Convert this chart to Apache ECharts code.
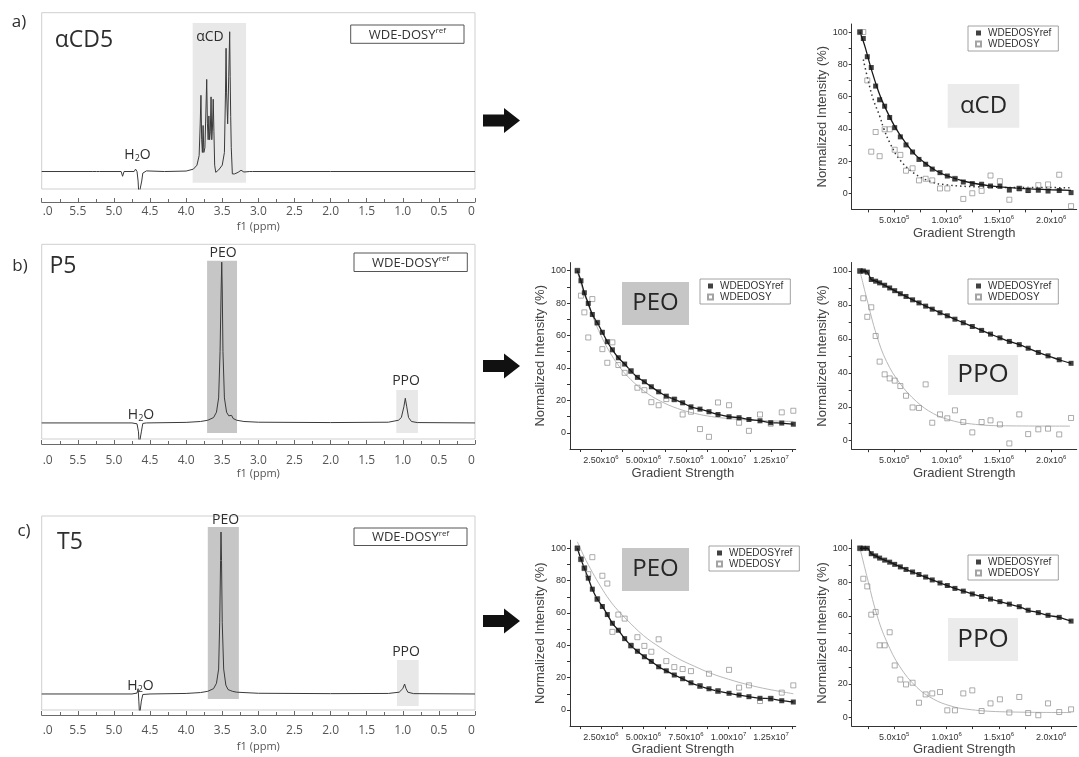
<!DOCTYPE html>
<html><head><meta charset="utf-8">
<script src="https://cdn.jsdelivr.net/npm/echarts@6/dist/echarts.min.js"></script>
<style>html,body{margin:0;padding:0;background:#fff}#c{width:1079px;height:757px}</style>
</head><body><div id="c"></div>
<script>
// ---------------- 1H NMR spectra: [ppm, intensity] ----------------
const nmrA = [[6,0],[5.3,0],[5.24,0],[5.22,0.8],[5.2,0],[4.9,0],[4.88,-3],[4.86,0],[4.72,0],[4.70,1.5],[4.68,0],[4.665,-6],[4.655,-15],[4.63,-15],[4.615,-6],[4.60,-1],[4.55,0.4],[4.3,0],[4.0,0.3],[3.9,1.5],[3.85,4],[3.82,10],[3.805,30],[3.795,48],[3.785,20],[3.775,12],[3.765,29],[3.755,12],[3.74,15],[3.725,40],[3.715,58],[3.705,30],[3.695,20],[3.685,35],[3.675,20],[3.665,25],[3.655,47],[3.645,20],[3.635,28],[3.625,45.5],[3.615,25],[3.605,4],[3.59,-0.5],[3.55,1],[3.5,4],[3.47,12],[3.455,50],[3.447,77.6],[3.44,50],[3.425,30],[3.41,60],[3.397,88],[3.39,60],[3.383,34.6],[3.375,15],[3.36,-1.5],[3.33,-1.5],[3.28,-0.5],[3.24,0.8],[3.2,-0.3],[3.12,0],[3.10,0.7],[3.08,0],[2.0,0],[0,0]];
const nmrB = [[6,0],[4.75,0],[4.68,-0.5],[4.66,-5],[4.65,-12],[4.63,-12],[4.62,-5],[4.6,-0.3],[4.55,0],[4.0,0.3],[3.8,0.8],[3.7,1.5],[3.62,3],[3.58,6],[3.55,14],[3.53,40],[3.515,75],[3.507,90],[3.50,75],[3.49,40],[3.47,14],[3.44,6],[3.41,4],[3.385,4.5],[3.37,4.2],[3.35,2.5],[3.3,1.5],[3.2,0.8],[3.0,0.4],[2.0,0.2],[1.2,0.4],[1.06,1.5],[1.02,3],[0.985,9],[0.965,13.8],[0.945,9],[0.92,3],[0.88,0.8],[0.8,0.2],[0,0]];
const nmrC = [[6,0],[4.75,0],[4.68,0.5],[4.665,3],[4.655,-4],[4.645,-12],[4.63,-12],[4.62,-4],[4.6,-0.3],[4.5,0],[4.0,0.3],[3.8,0.8],[3.7,1.5],[3.62,3],[3.58,6],[3.55,14],[3.535,40],[3.523,75],[3.517,91],[3.51,75],[3.5,40],[3.48,14],[3.45,5],[3.42,2.5],[3.39,2],[3.36,1.5],[3.3,1],[3.0,0.4],[2.0,0.2],[1.2,0.3],[1.05,1],[1.0,3],[0.975,5.6],[0.955,3],[0.93,1],[0.85,0.2],[0,0]];
// shaded integration regions: [ppmFrom, ppmTo, top, bottom]
const regionCD  = [3.91, 3.17, 93.5, -7.1];
const regionPEOb = [3.71, 3.295, 90.8, -5.6];
const regionPPOb = [1.09, 0.79, 18.5, -5.6];
const regionPEOc = [3.70, 3.27, 93.8, -2.8];
const regionPPOc = [1.08, 0.78, 19.1, -6.7];
const ppmTicks  = [6,5.5,5,4.5,4,3.5,3,2.5,2,1.5,1,0.5,0];
const ppmLabels = ['.0','5.5','5.0','4.5','4.0','3.5','3.0','2.5','2.0','1.5','1.0','0.5','0'];

// ---------------- DOSY decays ----------------
const gradSmall = [1.72e5,2.04e5,2.42e5,2.80e5,3.22e5,3.60e5,4.08e5,4.56e5,5.04e5,5.58e5,6.12e5,6.75e5,7.36e5,8.0e5,8.63e5,9.37e5,1.007e6,1.08e6,1.16e6,1.246e6,1.335e6,1.42e6,1.51e6,1.6e6,1.695e6,1.78e6,1.877e6,1.97e6,2.077e6,2.19e6];
const gradLarge = [1.11e6,1.32e6,1.52e6,1.75e6,1.99e6,2.28e6,2.58e6,2.87e6,3.17e6,3.52e6,3.89e6,4.26e6,4.64e6,5.05e6,5.46e6,5.89e6,6.34e6,6.81e6,7.30e6,7.79e6,8.32e6,8.85e6,9.38e6,1.003e7,1.062e7,1.12e7,1.185e7,1.248e7,1.313e7,1.381e7];

const cdRef = [100,96,84.7,78,66.5,58,54,47,40.7,35,30,25.6,21,18,15,12.8,10.7,9,7,6,5.6,4.5,4.3,2,2.9,1.7,1.9,1.4,1.7,0.4];
const cdW   = [100,100,70,25.8,38,23,39.7,39.7,27,23.8,14,15.5,8,9,8,3,3,9,-3.5,0,1.5,11,7.5,-4,3,2,5,5.5,11.5,-8];
const cdRefFit = [[1.72e5,100],[2.2e5,91],[2.8e5,77],[3.5e5,63],[4.0e5,55],[5.0e5,42],[6.0e5,32],[7.0e5,24],[8.0e5,18.5],[9.0e5,14],[1.0e6,11],[1.2e6,7],[1.4e6,4.8],[1.6e6,3.5],[1.8e6,2.7],[2.0e6,2.2],[2.19e6,1.8]];
const cdWFit = [[2.04e5,83],[2.5e5,70],[3.0e5,58],[3.6e5,48],[4.0e5,40],[4.6e5,31],[5.5e5,21],[6.9e5,12.4],[8.5e5,7.2],[1.0e6,5.2],[1.3e6,4],[1.7e6,3.6],[2.19e6,3.5]];

const peoBRef = [100,93.8,86.4,79.8,73,67.9,62,56.2,51.2,46.3,42.4,38.1,34.2,31.5,28.4,25.3,22.6,20.6,18.5,16,14.6,13,11.3,9.9,9.3,8.2,7.4,6.2,6,5.3];
const peoBW   = [100,84.6,74.3,58.8,82.5,67.9,51.6,43.2,55.8,41.8,37,38.1,27.8,26.3,18.9,17,20.8,20.6,11.3,13,2.3,-2.5,18.7,17,6.2,1.2,11.3,5.6,12.6,13.6];
const peoBWFit = [[1.11e6,99],[1.5e6,86],[2.0e6,72],[2.5e6,60],[3.0e6,50],[3.5e6,42],[4.0e6,35.5],[5.0e6,26],[6.0e6,19.5],[7.0e6,15],[8.0e6,12],[9.0e6,10],[1.0e7,8.8],[1.1e7,8],[1.2e7,7.5],[1.381e7,7]];

const ppoBRef = [100,100,99.3,95,94,93,91.6,90,88.4,86.6,85,83,81.2,79.3,77.5,75.4,73.6,71.6,69.5,67.3,65,62.8,60.6,58.5,56.6,54.5,52,50,47.7,45.6];
const ppoBW   = [100,83.9,73,78.6,61.7,46.6,39.1,36.7,35.4,32.2,26.5,19.6,19.3,33.2,10.6,15.5,13.2,17.9,11,4.9,11,12,9.6,-1.6,15.5,3.9,6.7,7.1,3.7,13.4];
const ppoBWFit = [[1.72e5,100],[2.36e5,84],[3.32e5,62],[4.27e5,46.6],[5.54e5,33.8],[7.14e5,23],[8.73e5,16],[1.033e6,12.2],[1.192e6,10.2],[1.51e6,8.8],[2.18e6,8.6]];

const peoCRef = [100,93.2,87.7,81.5,74.7,68.6,64,59,53.6,49.3,44.1,39.8,36.3,32.9,30,26.7,24.2,21.6,19.3,16.8,14.8,13.1,11.7,10.3,9.2,8.2,7.2,7,5.7,4.9];
const peoCW   = [100,93.2,87.7,84,94.5,68.6,83,78.2,48.3,59,56.5,39.8,45,39.6,36,43.7,30.2,26.5,25.3,24,14.8,22.4,11.7,24.8,13.8,15.2,5.5,7,10.7,15.2];
const peoCWFit = [[1.11e6,104],[1.5e6,95],[2.0e6,85],[2.5e6,76],[3.0e6,68],[3.5e6,61.5],[4.0e6,56],[5.0e6,46],[6.0e6,38.5],[7.0e6,32],[8.0e6,27],[9.0e6,22.5],[1.0e7,19],[1.1e7,16],[1.2e7,13.5],[1.3e7,11.5],[1.381e7,10]];

const ppoCRef = [100,100,100,96.8,95.5,94.2,93,91.8,90.5,89,87.5,86,84.5,83,81.3,79.5,78,76.3,74.7,73,71.5,70,68.5,67,65.5,63.4,62,60.4,59.2,57];
const ppoCW   = [100,82,77.5,60.8,62.4,42.7,42.7,50.4,30.8,22.5,19.6,20.6,8.8,13.7,14.3,15.1,4.3,4.3,14.3,16.1,3.9,8.4,10.8,3,12.2,2.7,1.4,8.4,3.3,4.9];
const ppoCWFit = [[1.72e5,100],[2.36e5,84],[3.32e5,61],[4.27e5,45],[5.54e5,30],[7.14e5,18],[8.73e5,11],[1.033e6,7],[1.192e6,5],[1.51e6,3.5],[2.19e6,3]];

const intTicks = [0,10,20,30,40,50,60,70,80,90,100];
const intLabels = [0,20,40,60,80,100];
const gradSmallTicks = [2.5e5,5e5,7.5e5,1e6,1.25e6,1.5e6,1.75e6,2e6];
const gradSmallLabelVals = [5e5,1e6,1.5e6,2e6];
const gradSmallLabels = ['5.0x10{s|5}','1.0x10{s|6}','1.5x10{s|6}','2.0x10{s|6}'];
const gradLargeTicks = [1.25e6,2.5e6,3.75e6,5e6,6.25e6,7.5e6,8.75e6,1e7,1.125e7,1.25e7,1.375e7];
const gradLargeLabelVals = [2.5e6,5e6,7.5e6,1e7,1.25e7];
const gradLargeLabels = ['2.50x10{s|6}','5.00x10{s|6}','7.50x10{s|6}','1.00x10{s|7}','1.25x10{s|7}'];

// ---------------- build ----------------
const zip = (xs, ys) => xs.map((x, i) => [x, ys[i]]);
const NMRF = 'Open Sans';
const ARF = 'Liberation Sans, Arial, sans-serif';

const grids = [], xAxes = [], yAxes = [], series = [], legends = [];

const nmrPanels = [
  {g:{left:41.7,top:12.7,width:433.3,height:176.3}, ymin:-11, off:13, lm:4, ng:19, data:nmrA, regions:[[regionCD,'#e8e8e8']]},
  {g:{left:41.7,top:244.3,width:433.3,height:194.7}, ymin:-9, off:5, lm:11, ng:24, data:nmrB, regions:[[regionPEOb,'#c6c6c6'],[regionPPOb,'#e8e8e8']]},
  {g:{left:41.7,top:516,width:433.3,height:194}, ymin:-9, off:5, lm:10, ng:26, data:nmrC, regions:[[regionPEOc,'#c6c6c6'],[regionPPOc,'#e8e8e8']]}
];
nmrPanels.forEach((p, k) => {
  grids.push(Object.assign({show:true, borderColor:'#cfcfcf', borderWidth:1, backgroundColor:'#fff'}, p.g));
  xAxes.push({
    gridIndex:k, type:'value', min:0, max:6, interval:0.5, inverse:true, offset:p.off,
    axisLine:{onZero:false, lineStyle:{color:'#6a6a6a', width:1}},
    axisTick:{inside:true, length:4, lineStyle:{color:'#6a6a6a'}},
    minorTick:{show:true, splitNumber:2, length:3, lineStyle:{color:'#6a6a6a'}},
    splitLine:{show:false}, minorSplitLine:{show:false},
    axisLabel:{margin:p.lm, fontFamily:NMRF, fontSize:12, color:'#555', showMinLabel:true, showMaxLabel:true,
      formatter:(v) => {
        const i = ppmTicks.findIndex(t => Math.abs(t - v) < 1e-6);
        const s = ppmLabels[i];
        if (i === 0) return '{l|' + s + '}';
        if (i === ppmTicks.length - 1) return '{r|' + s + '}';
        return s;
      },
      rich:{l:{fontFamily:NMRF, fontSize:12, color:'#555', padding:[0,0,0,12]}, r:{fontFamily:NMRF, fontSize:12, color:'#555', padding:[0,7,0,0]}}},
    name:'f1 (ppm)', nameLocation:'middle', nameGap:p.ng,
    nameTextStyle:{fontFamily:NMRF, fontSize:11, color:'#555'}
  });
  yAxes.push({gridIndex:k, type:'value', min:p.ymin, max:100, show:false, splitLine:{show:false}});
  series.push({
    type:'line', xAxisIndex:k, yAxisIndex:k, data:p.data, showSymbol:false, clip:true, z:3,
    lineStyle:{color:'#3a3a3a', width:1}, silent:true,
    markArea:{silent:true, z:1, data:p.regions.map(([r, c]) => [
      {coord:[r[0], r[2]], itemStyle:{color:c, opacity:1}},
      {coord:[r[1], r[3]]}
    ])}
  });
});

const dosyPanels = [
  {g:{left:851.7,top:24,width:225,height:185.4}, ymin:-10, small:true, ng:18,
   ref:cdRef, w:cdW, refFit:cdRefFit, wFit:cdWFit, wFitStyle:{color:'#333', width:1.5, type:[1.5,3]},
   legend:{left:968, top:26}},
  {g:{left:570,top:262.6,width:225.7,height:186.4}, ymin:-10, small:false, ng:18,
   ref:peoBRef, w:peoBW, wFit:peoBWFit, legend:{left:700, top:279}},
  {g:{left:851.7,top:262.5,width:225,height:186.7}, ymin:-5, small:true, ng:18,
   ref:ppoBRef, w:ppoBW, wFit:ppoBWFit, legend:{left:968, top:279}},
  {g:{left:570,top:540.2,width:225.7,height:186.7}, ymin:-10, small:false, ng:15,
   ref:peoCRef, w:peoCW, wFit:peoCWFit, legend:{left:709, top:546}},
  {g:{left:851.7,top:539.8,width:225,height:187}, ymin:-5, small:true, ng:15,
   ref:ppoCRef, w:ppoCW, wFit:ppoCWFit, legend:{left:968, top:555}}
];
dosyPanels.forEach((p, j) => {
  const k = 3 + j;
  const xs = p.small ? gradSmall : gradLarge;
  const tickVals = p.small ? gradSmallTicks : gradLargeTicks;
  const labVals = p.small ? gradSmallLabelVals : gradLargeLabelVals;
  const labs = p.small ? gradSmallLabels : gradLargeLabels;
  grids.push(Object.assign({show:false}, p.g));
  xAxes.push({
    gridIndex:k, type:'value', min: p.small ? 9.3e4 : 6.76e5, max: p.small ? 2.244e6 : 1.395e7,
    axisLine:{onZero:false, lineStyle:{color:'#333', width:1}},
    axisTick:{show:true, length:3, customValues:tickVals, lineStyle:{color:'#333'}},
    splitLine:{show:false},
    axisLabel:{customValues:labVals, margin:5, fontFamily:ARF, fontSize:9, color:'#333',
      formatter:(v) => { const i = labVals.findIndex(t => Math.abs(t - v) < 1); return '{b|' + labs[i].replace('{s|', '}{s|'); },
      rich:{b:{fontFamily:ARF, fontSize:9, color:'#333', lineHeight:11, verticalAlign:'bottom'}, s:{fontFamily:ARF, fontSize:6, color:'#333', verticalAlign:'top', lineHeight:11}}},
    name:'Gradient Strength', nameLocation:'middle', nameGap:p.ng,
    nameTextStyle:{fontFamily:ARF, fontSize:13, color:'#444'}
  });
  yAxes.push({
    gridIndex:k, type:'value', min:p.ymin, max:105,
    axisLine:{show:true, onZero:false, lineStyle:{color:'#333', width:1}},
    axisTick:{show:true, length:3, customValues:intTicks, lineStyle:{color:'#333'}},
    splitLine:{show:false},
    axisLabel:{customValues:intLabels, margin:4, fontFamily:ARF, fontSize:9, color:'#333'},
    name:'Normalized Intensity (%)', nameLocation:'middle', nameGap:22,
    nameTextStyle:{fontFamily:ARF, fontSize:13, color:'#444'}
  });
  // fits
  series.push({type:'line', name:'fitW'+j, xAxisIndex:k, yAxisIndex:k, data:p.wFit, showSymbol:false, smooth:0.4, z:2, silent:true,
    lineStyle: p.wFitStyle || {color:'#b8b8b8', width:1}});
  series.push({type:'line', name:'fitRef'+j, xAxisIndex:k, yAxisIndex:k, data: p.refFit || zip(xs, p.ref), showSymbol:false, smooth:0.3, z:2, silent:true,
    lineStyle:{color:'#1a1a1a', width:1.3}});
  // points
  series.push({type:'scatter', name:'WDEDOSY', xAxisIndex:k, yAxisIndex:k, data:zip(xs, p.w), symbol:'rect', symbolSize:5, z:3,
    itemStyle:{color:'rgba(255,255,255,0)', borderColor:'#8c8c8c', borderWidth:0.9}});
  series.push({type:'scatter', name:'WDEDOSYref', xAxisIndex:k, yAxisIndex:k, data:zip(xs, p.ref), symbol:'rect', symbolSize:5, z:4,
    itemStyle:{color:'#111'}});
  legends.push({left:p.legend.left, top:p.legend.top, orient:'vertical', data:['WDEDOSYref','WDEDOSY'], selectedMode:false,
    itemWidth:5, itemHeight:5, itemGap:1, padding:[2,7,2,7], borderColor:'#8a8a8a', borderWidth:0.8, backgroundColor:'#fff',
    textStyle:{fontFamily:ARF, fontSize:10, color:'#333', padding:[0,0,0,2]}});
});

// ---------------- annotations ----------------
const T = (x, y, text, size, extra) => ({type:'text', x, y, z:10, style:Object.assign({text, fontFamily:NMRF, fontSize:size, fill:'#2e2e2e', align:'center', verticalAlign:'middle'}, extra || {})});
const supBox = (x, y, w, h) => ([
  {type:'rect', shape:{x, y, width:w, height:h}, z:9, style:{fill:'#fff', stroke:'#555', lineWidth:1}},
  {type:'text', x:x + w/2, y:y + h/2, z:10, style:{text:'{m|WDE-DOSY}{s|ref}', align:'center', verticalAlign:'middle',
    rich:{m:{fontFamily:NMRF, fontSize:13, fill:'#333', lineHeight:15, verticalAlign:'bottom'}, s:{fontFamily:NMRF, fontSize:8, fill:'#333', lineHeight:15, verticalAlign:'top'}}}}
]);
const labBox = (x, y, w, h, fill, text, size) => ([
  {type:'rect', shape:{x, y, width:w, height:h}, z:0, style:{fill}},
  {type:'text', x:x + w/2, y:y + h/2, z:1, style:{text, fontFamily:NMRF, fontSize:size, fill:'#262626', align:'center', verticalAlign:'middle'}}
]);
const arrow = (cy) => ({type:'polygon', z:10, shape:{points:[[483,cy-6],[504,cy-6],[504,cy-12.5],[520,cy],[504,cy+12.5],[504,cy+6],[483,cy+6]]}, style:{fill:'#111'}});
const h2o = (x, y) => ({type:'text', x, y, z:10, style:{text:'{m|H}{s|2}{m|O}', align:'center', verticalAlign:'middle',
  rich:{m:{fontFamily:NMRF, fontSize:14, fill:'#2e2e2e', lineHeight:16}, s:{fontFamily:NMRF, fontSize:9, fill:'#2e2e2e', lineHeight:16, verticalAlign:'bottom', padding:[6,0,0,0]}}}});

const graphics = [].concat(
  T(19, 22, 'a)', 17), T(20, 266, 'b)', 17), T(24, 531, 'c)', 17),
  T(84, 40.5, 'αCD5', 23), T(63, 266, 'P5', 23), T(70, 542.5, 'T5', 23),
  supBox(350.7, 25, 113.3, 18.3), supBox(354, 253, 113.3, 18.5), supBox(354, 528, 113, 17.5),
  T(210, 37, 'αCD', 14), h2o(137.5, 155),
  T(223, 253, 'PEO', 14), h2o(141, 415), T(406, 381, 'PPO', 14),
  T(225.5, 520, 'PEO', 14), h2o(140.5, 686), T(406, 652, 'PPO', 14),
  arrow(120.5), arrow(366), arrow(621),
  labBox(947.7, 84, 71.6, 43.7, '#ebebeb', 'αCD', 24),
  labBox(622, 282, 67, 43, '#c6c6c6', 'PEO', 24),
  labBox(948, 355, 70, 40, '#ebebeb', 'PPO', 26),
  labBox(622, 548, 67, 43, '#c6c6c6', 'PEO', 24),
  labBox(948, 618, 70, 43, '#ebebeb', 'PPO', 26)
);

const chart = echarts.init(document.getElementById('c'), null, {renderer:'canvas'});
chart.setOption({
  animation:false, backgroundColor:'#fff',
  grid:grids, xAxis:xAxes, yAxis:yAxes, series, legend:legends,
  graphic:{elements:graphics}
});
</script></body></html>
